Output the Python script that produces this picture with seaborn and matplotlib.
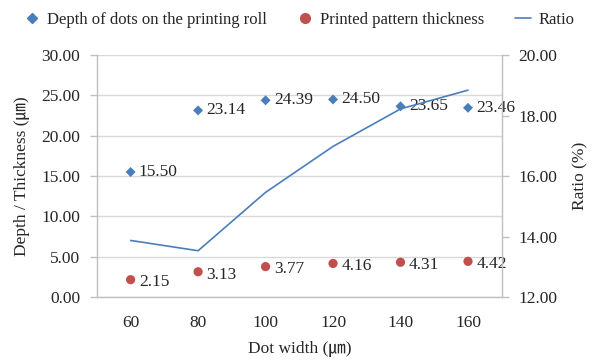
import matplotlib
matplotlib.use("Agg")
import matplotlib.pyplot as plt
import seaborn as sns
import pandas as pd
import numpy as np

# Dot width categories (µm) and measured values
dot_width = ["60", "80", "100", "120", "140", "160"]
depth = [15.50, 23.14, 24.39, 24.50, 23.65, 23.46]
thickness = [2.15, 3.13, 3.77, 4.16, 4.31, 4.42]
ratio = [13.87, 13.53, 15.46, 16.98, 18.22, 18.84]

left_ticks = [0, 5, 10, 15, 20, 25, 30]
right_ticks = [12, 14, 16, 18, 20]

sns.set_theme(style="white")
plt.rcParams['font.family'] = ['Liberation Serif', 'Noto Sans CJK JP']

blue = "#4a7ebb"
red = "#c0504d"
grid_c = "#d9d9d9"
axis_c = "#bfbfbf"
text_c = "#262626"

df = pd.DataFrame({
    "pos": np.arange(len(dot_width)),
    "width": dot_width,
    "depth": depth,
    "thickness": thickness,
    "ratio": ratio,
})

fig = plt.figure(figsize=(5.98, 3.6), dpi=100)
ax = fig.add_axes([0.162, 0.175, 0.677, 0.672])
ax2 = ax.twinx()

sns.scatterplot(data=df, x="pos", y="depth", ax=ax, marker="D", color=blue,
                s=26, edgecolor="none", zorder=3, legend=False)
sns.scatterplot(data=df, x="pos", y="thickness", ax=ax, marker="o", color=red,
                s=44, edgecolor="none", zorder=3, legend=False)
sns.lineplot(data=df, x="pos", y="ratio", ax=ax2, color=blue, lw=1.2,
             legend=False)

# Value labels beside each marker
for p, v in zip(df["pos"], df["depth"]):
    ax.annotate(f"{v:.2f}", (p, v), xytext=(6, 0), textcoords="offset points",
                ha="left", va="center", fontsize=12.5, color=text_c)
for p, v in zip(df["pos"], df["thickness"]):
    ax.annotate(f"{v:.2f}", (p, v), xytext=(6, -2), textcoords="offset points",
                ha="left", va="center", fontsize=12.5, color=text_c)

# Left axis
ax.set_ylim(0, 30)
ax.set_yticks(left_ticks)
ax.set_yticklabels([f"{t:.2f}" for t in left_ticks])
ax.yaxis.grid(True, color=grid_c, lw=1)
ax.set_axisbelow(True)
ax.set_ylabel("Depth / Thickness (㎛)", fontsize=12.5, color=text_c, labelpad=8)

# Category x axis with ticks between categories
ax.set_xlim(-0.5, len(dot_width) - 0.5)
ax.set_xticks(df["pos"])
ax.set_xticklabels(dot_width)
ax.set_xticks(np.arange(-0.5, len(dot_width), 1.0), minor=True)
ax.tick_params(axis="x", which="major", length=0, pad=13, labelsize=12.5,
               labelcolor=text_c)
ax.tick_params(axis="x", which="minor", length=5, color=axis_c, width=1)
ax.set_xlabel("Dot width (㎛)", fontsize=12.5, color=text_c, labelpad=7)
ax.tick_params(axis="y", length=5, color=axis_c, width=1, labelsize=12.5,
               labelcolor=text_c, pad=7, left=True)

# Right axis
ax2.set_ylim(12, 20)
ax2.set_yticks(right_ticks)
ax2.set_yticklabels([f"{t:.2f}" for t in right_ticks])
ax2.tick_params(axis="y", length=5, color=axis_c, width=1, labelsize=12.5,
                labelcolor=text_c, pad=7, right=True)
ax2.set_ylabel("Ratio (%)", fontsize=12.5, color=text_c, labelpad=11)

for a in (ax, ax2):
    a.spines["top"].set_visible(False)
    for s in ("left", "right", "bottom"):
        a.spines[s].set_color(axis_c)
        a.spines[s].set_linewidth(1)
ax.spines["right"].set_visible(False)
ax2.spines["left"].set_visible(False)
ax2.spines["bottom"].set_visible(False)

# Legend across the top
handles = [
    plt.Line2D([], [], marker="D", color=blue, ls="none", markersize=5),
    plt.Line2D([], [], marker="o", color=red, ls="none", markersize=7),
    plt.Line2D([], [], color=blue, lw=1.2),
]
labels = ["Depth of dots on the printing roll", "Printed pattern thickness", "Ratio"]
fig.legend(handles, labels, loc="center", bbox_to_anchor=(0.5, 0.944), ncol=3,
           frameon=False, fontsize=12, handlelength=1.0, handletextpad=0.4,
           columnspacing=1.8, labelcolor=text_c)

fig.savefig("out.png", dpi=100)
